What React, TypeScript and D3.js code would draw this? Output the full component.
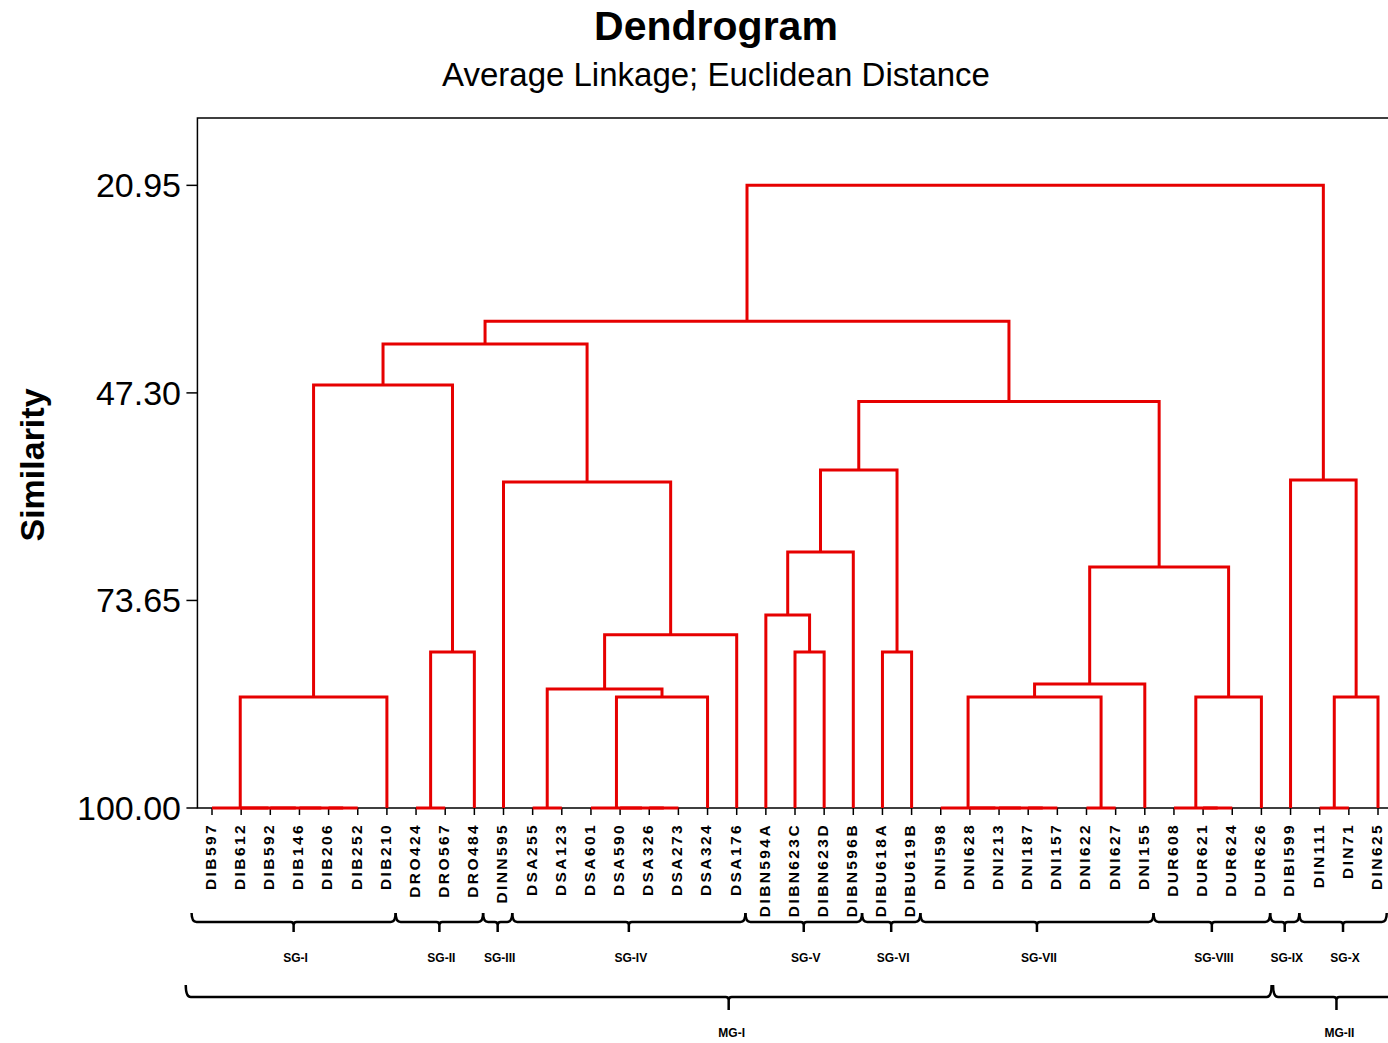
import React from 'react';
import * as d3 from 'd3';

const leafNames = [
  'DIB597', 'DIB612', 'DIB592', 'DIB146', 'DIB206', 'DIB252', 'DIB210',
  'DRO424', 'DRO567', 'DRO484', 'DINN595',
  'DSA255', 'DSA123', 'DSA601', 'DSA590', 'DSA326', 'DSA273', 'DSA324', 'DSA176',
  'DIBN594A', 'DIBN623C', 'DIBN623D', 'DIBN596B', 'DIBU618A', 'DIBU619B',
  'DNI598', 'DNI628', 'DNI213', 'DNI187', 'DNI157', 'DNI622', 'DNI627', 'DNI155',
  'DUR608', 'DUR621', 'DUR624', 'DUR626', 'DIBI599', 'DIN111', 'DIN71', 'DIN625',
];

// [cluster id, left child, right child, similarity at merge]
const merges: [string, string, string, number][] = [
  ['c1', 'DIB206', 'DIB252', 100],
  ['c2', 'DIB146', 'c1', 100],
  ['c3', 'DIB592', 'c2', 100],
  ['c4', 'DIB612', 'c3', 100],
  ['c5', 'DIB597', 'c4', 100],
  ['c6', 'c5', 'DIB210', 85.9],
  ['c7', 'DRO424', 'DRO567', 100],
  ['c8', 'c7', 'DRO484', 80.2],
  ['c9', 'c6', 'c8', 46.3],
  ['c10', 'DSA255', 'DSA123', 100],
  ['c11', 'DSA326', 'DSA273', 100],
  ['c12', 'DSA590', 'c11', 100],
  ['c13', 'DSA601', 'c12', 100],
  ['c14', 'c13', 'DSA324', 85.9],
  ['c15', 'c10', 'c14', 84.9],
  ['c16', 'c15', 'DSA176', 78.0],
  ['c17', 'DINN595', 'c16', 58.6],
  ['c18', 'c9', 'c17', 41.1],
  ['c19', 'DIBN623C', 'DIBN623D', 80.2],
  ['c20', 'DIBN594A', 'c19', 75.5],
  ['c21', 'c20', 'DIBN596B', 67.5],
  ['c22', 'DIBU618A', 'DIBU619B', 80.2],
  ['c23', 'c21', 'c22', 57.1],
  ['c24', 'DNI187', 'DNI157', 100],
  ['c25', 'DNI213', 'c24', 100],
  ['c26', 'DNI628', 'c25', 100],
  ['c27', 'DNI598', 'c26', 100],
  ['c28', 'DNI622', 'DNI627', 100],
  ['c29', 'c27', 'c28', 85.9],
  ['c30', 'c29', 'DNI155', 84.25],
  ['c31', 'DUR621', 'DUR624', 100],
  ['c32', 'DUR608', 'c31', 100],
  ['c33', 'c32', 'DUR626', 85.9],
  ['c34', 'c30', 'c33', 69.4],
  ['c35', 'c23', 'c34', 48.4],
  ['c36', 'c18', 'c35', 38.2],
  ['c37', 'DIN111', 'DIN71', 100],
  ['c38', 'c37', 'DIN625', 85.9],
  ['c39', 'DIBI599', 'c38', 58.35],
  ['c40', 'c36', 'c39', 20.95],
];

const yTicks = [20.95, 47.3, 73.65, 100.0];

// [label, first leaf, last leaf]
const subGroups: [string, string, string][] = [
  ['SG-I', 'DIB597', 'DIB210'],
  ['SG-II', 'DRO424', 'DRO484'],
  ['SG-III', 'DINN595', 'DINN595'],
  ['SG-IV', 'DSA255', 'DSA176'],
  ['SG-V', 'DIBN594A', 'DIBN596B'],
  ['SG-VI', 'DIBU618A', 'DIBU619B'],
  ['SG-VII', 'DNI598', 'DNI155'],
  ['SG-VIII', 'DUR608', 'DUR626'],
  ['SG-IX', 'DIBI599', 'DIBI599'],
  ['SG-X', 'DIN111', 'DIN625'],
];

const mainGroups: [string, string, string][] = [
  ['MG-I', 'DIB597', 'DUR626'],
  ['MG-II', 'DIBI599', 'DIN625'],
];

const FONT = "'Liberation Sans', Arial, sans-serif";
const RED = '#e60000';

function bracePath(x0: number, x1: number, yTop: number, yLine: number, yTick: number) {
  const xc = (x0 + x1) / 2;
  const r = 5;
  const c = 3;
  return [
    `M${x0},${yTop}`,
    `Q${x0},${yLine} ${x0 + r},${yLine}`,
    `L${xc - c},${yLine}`,
    `Q${xc},${yLine} ${xc},${yLine + c}`,
    `L${xc},${yTick}`,
    `M${xc},${yLine + c}`,
    `Q${xc},${yLine} ${xc + c},${yLine}`,
    `L${x1 - r},${yLine}`,
    `Q${x1},${yLine} ${x1},${yTop}`,
  ].join(' ');
}

export default function App() {
  const W = 1388;
  const H = 1043;
  const idx = d3.scaleLinear().domain([0, leafNames.length - 1]).range([212, 1378]);
  const x = d3.scalePoint<string>().domain(leafNames).range([212, 1378]);
  const y = d3.scaleLinear().domain([100, 12.4]).range([808, 118]);
  const iOf = (n: string) => leafNames.indexOf(n);

  const pos = new Map<string, { x: number; h: number }>();
  leafNames.forEach((n) => pos.set(n, { x: x(n) as number, h: 100 }));
  const links: string[] = [];
  merges.forEach(([id, a, b, h]) => {
    const A = pos.get(a)!;
    const B = pos.get(b)!;
    links.push(`M${A.x},${y(A.h)} V${y(h)} H${B.x} V${y(B.h)}`);
    pos.set(id, { x: (A.x + B.x) / 2, h });
  });

  const frameL = idx(-0.5);
  const frameR = idx(leafNames.length - 0.5);
  const yTop = y.range()[1];
  const yBot = y.range()[0];

  return (
    <svg
      width={W}
      height={H}
      style={{ position: 'absolute', left: 0, top: 0, background: '#fff' }}
      fontFamily={FONT}
    >
      <rect x={0} y={0} width={W} height={H} fill="#fff" />
      <text x={716} y={40} textAnchor="middle" fontSize={41} fontWeight="bold" fill="#000">
        Dendrogram
      </text>
      <text x={716} y={86} textAnchor="middle" fontSize={33} fill="#000">
        Average Linkage; Euclidean Distance
      </text>

      {/* frame */}
      <path
        d={`M${frameR},${yTop} H${frameL} V${yBot} H${frameR}`}
        fill="none"
        stroke="#000"
        strokeWidth={1.5}
      />
      {yTicks.map((t) => (
        <g key={t}>
          <line x1={frameL - 11} x2={frameL} y1={y(t)} y2={y(t)} stroke="#000" strokeWidth={1.5} />
          <text x={181} y={y(t) + 12} textAnchor="end" fontSize={34} fill="#000">
            {t.toFixed(2)}
          </text>
        </g>
      ))}
      <text
        transform={`translate(44,465) rotate(-90)`}
        textAnchor="middle"
        fontSize={34}
        fontWeight="bold"
        fill="#000"
      >
        Similarity
      </text>

      {leafNames.map((n) => (
        <g key={n}>
          <line x1={x(n)} x2={x(n)} y1={yBot} y2={yBot + 7} stroke="#000" strokeWidth={1.5} />
          <text
            transform={`translate(${x(n)},${yBot + 15}) rotate(-90)`}
            textAnchor="end"
            dy="0.25em"
            fontSize={15.5}
            fontWeight="bold"
            letterSpacing={2.4}
            fill="#000"
          >
            {n}
          </text>
        </g>
      ))}

      {/* dendrogram links */}
      {links.map((d, i) => (
        <path key={i} d={d} fill="none" stroke={RED} strokeWidth={3} />
      ))}

      {/* sub-group braces */}
      {subGroups.map(([label, a, b]) => {
        const x0 = idx(iOf(a) - 0.7);
        const x1 = idx(iOf(b) + 0.3);
        const xc = (x0 + x1) / 2;
        return (
          <g key={label}>
            <path d={bracePath(x0, x1, 913, 922, 932)} fill="none" stroke="#000" strokeWidth={2.5} />
            <text x={xc + 2} y={962} textAnchor="middle" fontSize={12} fontWeight="bold" fill="#000">
              {label}
            </text>
          </g>
        );
      })}
      {mainGroups.map(([label, a, b], i) => {
        const x0 = idx(iOf(a) - (i === 0 ? 0.9 : 0.6));
        const x1 = idx(iOf(b) + (i === 0 ? 0.35 : 0.75));
        const xc = (x0 + x1) / 2;
        return (
          <g key={label}>
            <path d={bracePath(x0, x1, 985, 997, 1010)} fill="none" stroke="#000" strokeWidth={2.5} />
            <text x={xc + 3} y={1037} textAnchor="middle" fontSize={12} fontWeight="bold" fill="#000">
              {label}
            </text>
          </g>
        );
      })}
    </svg>
  );
}
